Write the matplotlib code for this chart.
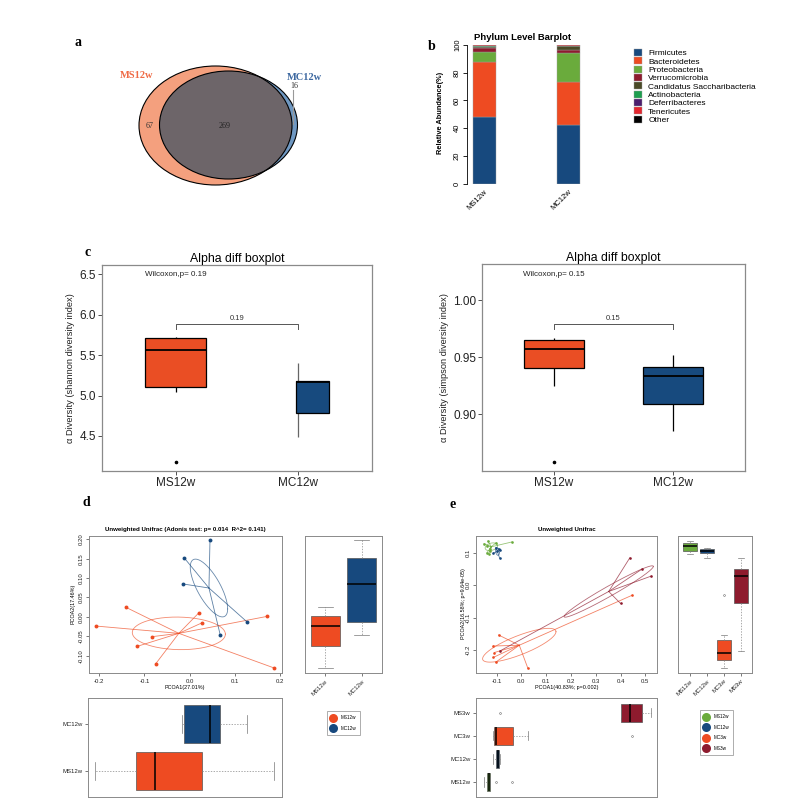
import matplotlib.pyplot as plt
import numpy as np
from matplotlib.patches import Ellipse
from matplotlib.lines import Line2D
from matplotlib import font_manager

# ---------------- data ----------------
# a: Venn diagram of OTUs
venn_groups = ['MS12w', 'MC12w']
venn_only = [67, 16]
venn_shared = 269

# b: phylum level relative abundance (%)
phyla = ['Firmicutes', 'Bacteroidetes', 'Proteobacteria', 'Verrucomicrobia',
         'Candidatus Saccharibacteria', 'Actinobacteria', 'Deferribacteres',
         'Tenericutes', 'Other']
bar_samples = ['MS12w', 'MC12w']
ms12w_abund = [48.3, 39.5, 7.0, 2.6, 1.3, 0.4, 0.3, 0.2, 0.4]
mc12w_abund = [42.5, 30.5, 21.0, 2.3, 2.6, 0.2, 0.3, 0.1, 0.5]
phylum_colors = ['#17497E', '#EE4B22', '#6AAB3C', '#8E1B2E', '#4A4A26',
                 '#1E9E4F', '#4B1E6E', '#E3262E', '#000000']

# c: alpha diversity box statistics
alpha_groups = ['MS12w', 'MC12w']
shannon_q1 = [5.11, 4.79]
shannon_med = [5.56, 5.17]
shannon_q3 = [5.71, 5.18]
shannon_lo = [5.05, 4.49]
shannon_hi = [5.73, 5.40]
shannon_out = [[4.18], []]
shannon_p = 0.19
simpson_q1 = [0.940, 0.909]
simpson_med = [0.957, 0.933]
simpson_q3 = [0.965, 0.941]
simpson_lo = [0.925, 0.885]
simpson_hi = [0.967, 0.952]
simpson_out = [[0.858], []]
simpson_p = 0.15

# d: PCoA (unweighted unifrac), two groups
d_groups = ['MS12w', 'MC12w']
d_x = [[-0.141, -0.208, 0.020, 0.028, 0.172, -0.083, -0.116, -0.075, 0.1875],
       [0.045, -0.012, -0.0155, 0.128, 0.068]]
d_y = [[0.0246, -0.0236, 0.010, -0.015, 0.0014, -0.051, -0.076, -0.1207, -0.132],
       [0.197, 0.152, 0.085, -0.014, -0.048]]
d_spread = [(0.103, 0.042, -0.05), (0.0414, 0.0745, -0.72)]  # sd-x, sd-y, corr
d_colors = ['#EE4B22', '#17497E']

# e: PCoA (unweighted unifrac), four groups
e_groups = ['MS12w', 'MC12w', 'MC3w', 'MS3w']
e_x = [[-0.151, -0.139, -0.137, -0.135, -0.132, -0.128, -0.127, -0.102, -0.039],
       [-0.104, -0.092, -0.085, -0.097, -0.113, -0.088],
       [-0.092, -0.113, -0.109, -0.113, -0.104, 0.026, 0.446],
       [0.437, 0.487, 0.523, 0.400, -0.086]]
e_y = [[0.128, 0.100, 0.122, 0.136, 0.097, 0.113, 0.105, 0.131, 0.133],
       [0.116, 0.113, 0.108, 0.104, 0.099, 0.084],
       [-0.153, -0.187, -0.207, -0.222, -0.237, -0.255, -0.031],
       [0.084, 0.050, 0.028, -0.056, -0.202]]
e_spread = [(0.025, 0.012, 0.3), (0.008, 0.012, -0.3),
            (0.148, 0.052, 0.80), (0.180, 0.079, 0.975)]
e_colors = ['#6AAB3C', '#17497E', '#EE4B22', '#8E1B2E']

# ---------------- setup ----------------
plt.rcParams['font.family'] = ['Liberation Sans', 'DejaVu Sans']
plt.rcParams['axes.unicode_minus'] = False
names = {f.name for f in font_manager.fontManager.ttflist}
has_narrow = 'Liberation Sans Narrow' in names
narrow = 'Liberation Sans Narrow' if has_narrow else 'Liberation Sans'
ylab_size = 8 if has_narrow else 6.7
serif = 'Liberation Serif'

W, H = 800, 807
fig = plt.figure(figsize=(8, 8.07), dpi=100)


def px_axes(l, t, r, b):
    return fig.add_axes([l / W, 1 - b / H, (r - l) / W, (b - t) / H])


def ftext(x, y, s, **kw):
    fig.text(x / W, 1 - y / H, s, **kw)


def r_frame(ax):
    for s in ax.spines.values():
        s.set_color('#8a8a8a')
        s.set_linewidth(0.7)
    ax.tick_params(direction='out', length=2.5, width=0.5, color='#444',
                   labelsize=4.3, pad=1.5, labelcolor='#222')


# panel letters
for letter, (lx, ly) in zip('abcde', [(78, 43), (432, 47), (88, 253), (86, 503), (453, 504)]):
    ftext(lx, ly, letter, family=serif, fontweight='bold', fontsize=10,
          ha='center', va='center')

# ---------------- a: Venn ----------------
ax = px_axes(120, 50, 330, 200)
ax.set_xlim(120, 330)
ax.set_ylim(200, 50)
ax.axis('off')
ms_geom = ((215.5, 125.5), 153, 119)
mc_geom = ((228.5, 125), 138, 108)
ms_e = Ellipse(*ms_geom, fc='#F4A07E', ec='none')
ax.add_patch(ms_e)
ax.add_patch(Ellipse(*mc_geom, fc='#6F98C2', ec='none'))
ov = Ellipse(*mc_geom, fc='#6D6569', ec='none')
ax.add_patch(ov)
ov.set_clip_path(ms_e)
for g in (ms_geom, mc_geom):
    ax.add_patch(Ellipse(*g, fill=False, ec='black', lw=0.8))
ax.text(137, 75, venn_groups[0], color='#EF6A45', family=serif, fontweight='bold',
        fontsize=7.5, ha='center', va='center')
ax.text(304, 78, venn_groups[1], color='#3D68A0', family=serif, fontweight='bold',
        fontsize=7.5, ha='center', va='center')
ax.text(150, 126, str(venn_only[0]), family=serif, fontsize=5.8, ha='center', va='center', color='#333')
ax.text(225, 126, str(venn_shared), family=serif, fontsize=5.8, ha='center', va='center', color='#222')
ax.text(294, 86, str(venn_only[1]), family=serif, fontsize=5.8, ha='center', va='center', color='#333')
ax.plot([293.3, 293.3], [90, 124], color='#999', lw=0.8)

# ---------------- b: stacked bar ----------------
axb = px_axes(470, 44.7, 600, 184)
xb = np.arange(len(bar_samples))
bottom = np.zeros(len(bar_samples))
for i, name in enumerate(phyla):
    vals = np.array([ms12w_abund[i], mc12w_abund[i]])
    axb.bar(xb, vals, 0.273, bottom=bottom, color=phylum_colors[i], label=name,
            edgecolor='#a0a0a0', linewidth=0.3)
    bottom += vals
axb.set_xlim(-0.168, 1.374)
axb.set_ylim(0, 100)
for s in ['top', 'right', 'bottom']:
    axb.spines[s].set_visible(False)
axb.spines['left'].set_position(('outward', 2))
axb.spines['left'].set_linewidth(0.6)
axb.set_yticks([0, 20, 40, 60, 80, 100])
axb.tick_params(axis='y', labelsize=5.5, length=3, width=0.6, pad=1.5, labelrotation=90)
for t in axb.get_yticklabels():
    t.set_va('center')
axb.set_xticks(xb)
axb.set_xticklabels(bar_samples, rotation=45, ha='right', va='top',
                    rotation_mode='anchor', fontsize=5.5)
axb.tick_params(axis='x', length=0, pad=3)
ftext(523, 37, 'Phylum Level Barplot', fontweight='bold', fontsize=6.8, ha='center', va='center')
ftext(440, 113, 'Relative Abundance(%)', fontweight='bold', fontsize=5.3, rotation=90,
      ha='center', va='center')
axb.legend(loc='upper left', bbox_to_anchor=(634 / W, 1 - 49 / H), bbox_transform=fig.transFigure,
           frameon=False, fontsize=6, handlelength=0.9, handleheight=0.9,
           labelspacing=0.0, handletextpad=0.8, borderpad=0, borderaxespad=0)

# ---------------- c: alpha diversity ----------------
box_fill = ['#EA4E24', '#174A7E']


def alpha_plot(rect, q1, med, q3, lo, hi, fliers, ylim, yticks, fmt, ylabel, pval,
               bracket, wil_y, box_pos, box_w, whisk_colors):
    ax = px_axes(*rect)
    for i in range(2):
        ax.vlines(i + 1, lo[i], q1[i], color=whisk_colors[i], lw=0.9, zorder=1)
        ax.vlines(i + 1, q3[i], hi[i], color=whisk_colors[i], lw=0.9, zorder=1)
    stats = [dict(med=med[i], q1=q1[i], q3=q3[i], whislo=q1[i], whishi=q3[i],
                  fliers=fliers[i]) for i in range(2)]
    bp = ax.bxp(stats, positions=box_pos, widths=box_w, patch_artist=True,
                showcaps=False, whiskerprops=dict(lw=0),
                boxprops=dict(edgecolor='black', lw=0.9),
                medianprops=dict(color='black', lw=1.3),
                flierprops=dict(marker='o', ms=1.6, mfc='black', mec='black'))
    for p, c in zip(bp['boxes'], box_fill):
        p.set_facecolor(c)
    ax.set_xlim(0.4, 2.6)
    ax.set_ylim(*ylim)
    ax.set_xticks([1, 2])
    ax.set_xticklabels(alpha_groups)
    ax.set_yticks(yticks)
    ax.set_yticklabels([fmt.format(v) for v in yticks])
    for s in ax.spines.values():
        s.set_color('#8a8a8a')
        s.set_linewidth(0.9)
    ax.tick_params(direction='out', length=2.8, width=0.6, color='#333',
                   labelsize=8.5, labelcolor='#222', pad=1.5)
    ax.set_title('Alpha diff boxplot', fontsize=8.8, pad=2.5)
    ax.set_ylabel(ylabel, family=narrow, fontsize=ylab_size, labelpad=3, color='#222')
    b0, b1 = bracket
    ax.plot([1, 1, 2, 2], [b0, b1, b1, b0], color='#555', lw=0.7)
    ax.text(1.5, b1 + (b1 - b0) * 0.45, f'{pval}', ha='center', va='bottom', fontsize=5.5, color='#333')
    ax.text(1.0, wil_y, f'Wilcoxon,p= {pval}', ha='center', va='center', fontsize=5.8, color='#222')
    return ax


alpha_plot((102, 265, 372, 471), shannon_q1, shannon_med, shannon_q3, shannon_lo, shannon_hi,
           shannon_out, (4.067, 6.615), [4.5, 5.0, 5.5, 6.0, 6.5], '{:.1f}',
           'α Diversity (shannon diversity index)', shannon_p, (5.823, 5.881), 6.5,
           [1, 2.113], [0.5, 0.27], ['black', '#666'])
alpha_plot((482, 264, 745, 471), simpson_q1, simpson_med, simpson_q3, simpson_lo, simpson_hi,
           simpson_out, (0.85, 1.0316), [0.90, 0.95, 1.00], '{:.2f}',
           'α Diversity (simpson diversity index)', simpson_p, (0.9746, 0.9787), 1.0225,
           [1, 2], [0.5, 0.5], ['black', 'black'])


# ---------------- d / e: PCoA ----------------
def r_boxplot(ax, data, colors, orientation):
    bp = ax.boxplot(data, positions=np.arange(1, len(data) + 1), widths=0.8,
                    orientation=orientation, patch_artist=True,
                    boxprops=dict(edgecolor='#555', lw=0.5),
                    medianprops=dict(color='black', lw=1.1),
                    whiskerprops=dict(color='#888', lw=0.5, ls=(0, (2, 2))),
                    capprops=dict(color='#777', lw=0.5),
                    flierprops=dict(marker='o', ms=1.3, mfc='none', mec='#666', mew=0.4))
    for p, c in zip(bp['boxes'], colors):
        p.set_facecolor(c)


def pcoa_panel(sc_rect, side_rect, bot_rect, leg_xy, groups, xs, ys, colors, spreads,
               xlim, ylim, xticks, xfmt, yticks, yfmt, side_xlim, bot_ylim,
               title, title_xy, xlabel, xlabel_xy, ylabel, ylabel_xy, ms, leg_space):
    ax = px_axes(*sc_rect)
    t = np.linspace(0, 2 * np.pi, 200)
    for gx, gy, c, (a, b, r) in zip(xs, ys, colors, spreads):
        gx, gy = np.array(gx), np.array(gy)
        cx, cy = gx.mean(), gy.mean()
        for px_, py_ in zip(gx, gy):
            ax.plot([cx, px_], [cy, py_], color=c, lw=0.6, alpha=0.7)
        ex = cx + a * np.cos(t)
        ey = cy + b * (r * np.cos(t) + np.sqrt(1 - r ** 2) * np.sin(t))
        ax.plot(ex, ey, color=c, lw=0.6, alpha=0.65)
        ax.plot(gx, gy, 'o', color=c, ms=ms, mec='none')
    ax.set_xlim(*xlim)
    ax.set_ylim(*ylim)
    ax.set_xticks(xticks)
    ax.set_xticklabels([xfmt.format(v) for v in xticks])
    ax.set_yticks(yticks)
    ax.set_yticklabels([yfmt.format(v) for v in yticks], rotation=90, va='center')
    r_frame(ax)
    ftext(*title_xy, title, fontweight='bold', fontsize=4.4, ha='center', va='center')
    ftext(*xlabel_xy, xlabel, fontsize=3.9, ha='center', va='center')
    ftext(*ylabel_xy, ylabel, fontsize=3.9, ha='center', va='center', rotation=90)

    axs = px_axes(*side_rect)
    r_boxplot(axs, ys, colors, 'vertical')
    axs.set_ylim(*ylim)
    axs.set_xlim(*side_xlim)
    axs.set_yticks([])
    axs.set_xticks(np.arange(1, len(groups) + 1))
    axs.set_xticklabels(groups, rotation=45, ha='right', va='top', rotation_mode='anchor')
    r_frame(axs)

    axd = px_axes(*bot_rect)
    r_boxplot(axd, xs, colors, 'horizontal')
    axd.set_xlim(*xlim)
    axd.set_ylim(*bot_ylim)
    axd.set_xticks([])
    axd.set_yticks(np.arange(1, len(groups) + 1))
    axd.set_yticklabels(groups)
    r_frame(axd)

    handles = [Line2D([], [], marker='o', ls='none', color=c, ms=6.5, mec='none') for c in colors]
    leg = fig.legend(handles, groups, loc='upper left',
                     bbox_to_anchor=(leg_xy[0] / W, 1 - leg_xy[1] / H),
                     fontsize=3.3, frameon=True, fancybox=False, edgecolor='#888',
                     handlelength=1.0, handletextpad=1.0, borderpad=0.9, labelspacing=leg_space,
                     borderaxespad=0)
    leg.get_frame().set_linewidth(0.6)


pcoa_panel((89, 536, 282, 673), (305, 536, 382, 673), (88, 698, 282, 797), (327, 711),
           d_groups, d_x, d_y, d_colors, d_spread,
           (-0.2228, 0.2044), (-0.1447, 0.2085),
           [-0.2, -0.1, 0.0, 0.1, 0.2], '{:.1f}',
           [-0.10, -0.05, 0.00, 0.05, 0.10, 0.15, 0.20], '{:.2f}',
           (0.44, 2.56), (0.447, 2.553),
           'Unweighted Unifrac (Adonis test: p= 0.014  R^2= 0.141)', (185, 529),
           'PCOA1(27.01%)', (185, 687), 'PCOA2(17.46%)', (73, 604), 2.8, 1.2)

pcoa_panel((476, 536, 657, 673), (678, 536, 752, 673), (476, 698, 657, 797), (700, 710),
           e_groups, e_x, e_y, e_colors, e_spread,
           (-0.183, 0.547), (-0.270, 0.1515),
           [-0.1, 0.0, 0.1, 0.2, 0.3, 0.4, 0.5], '{:.1f}',
           [-0.2, -0.1, 0.0, 0.1], '{:.1f}',
           (0.3, 4.65), (0.35, 4.64),
           'Unweighted Unifrac', (567, 529),
           'PCOA1(40.83%; p=0.002)', (567, 687), 'PCOA2(16.58%; p=9.64e-05)', (463, 604), 1.9, 1.2)

fig.savefig('out.png', dpi=100)
